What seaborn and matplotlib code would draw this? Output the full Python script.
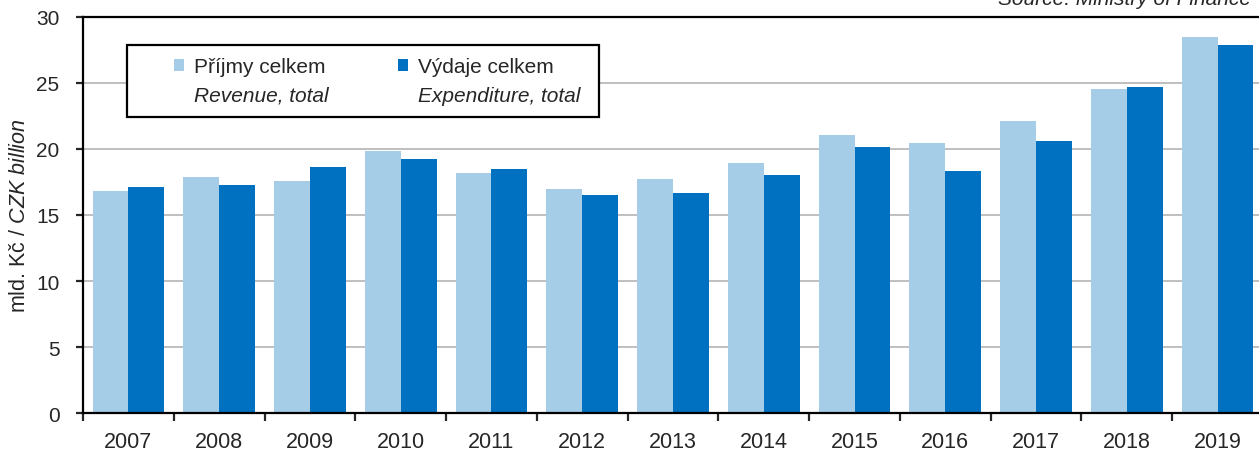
import pandas as pd
import matplotlib
matplotlib.use("Agg")
import matplotlib.pyplot as plt
import seaborn as sns
from matplotlib.patches import Patch, Rectangle

years = ["2007", "2008", "2009", "2010", "2011", "2012", "2013",
         "2014", "2015", "2016", "2017", "2018", "2019"]
revenue = [16.85, 17.9, 17.6, 19.85, 18.2, 17.0, 17.75, 18.95, 21.05, 20.45, 22.1, 24.55, 28.45]
expenditure = [17.15, 17.3, 18.65, 19.25, 18.5, 16.55, 16.7, 18.05, 20.15, 18.35, 20.6, 24.7, 27.85]

rev_label = "Příjmy celkem"
exp_label = "Výdaje celkem"
rev_label_en = "Revenue, total"
exp_label_en = "Expenditure, total"

light_blue = "#A6CDE8"
dark_blue = "#0070C0"

"""Long-form table for seaborn"""
df = pd.DataFrame({
    "Year": years * 2,
    "Value": revenue + expenditure,
    "Series": [rev_label] * len(years) + [exp_label] * len(years),
})

sns.set_style("white")
plt.rcParams["font.family"] = ["Liberation Sans", "DejaVu Sans"]
plt.rcParams["mathtext.fontset"] = "custom"
plt.rcParams["mathtext.rm"] = "Liberation Sans"
plt.rcParams["mathtext.it"] = "Liberation Sans:italic"

W, H = 1259, 452
fig = plt.figure(figsize=(W / 100, H / 100), dpi=100)
ax_left, ax_right, ax_top, ax_bottom = 83, 1263, 17.7, 414.3
ax = fig.add_axes([ax_left / W, 1 - ax_bottom / H, (ax_right - ax_left) / W, (ax_bottom - ax_top) / H])

sns.barplot(data=df, x="Year", y="Value", hue="Series", palette=[light_blue, dark_blue],
            saturation=1, width=0.79, gap=0, linewidth=0, legend=False, ax=ax, zorder=2)

ax.set_xlim(-0.5, len(years) - 0.5)
ax.set_ylim(0, 30)
ax.set_yticks(range(0, 31, 5))
ax.yaxis.grid(True, color="#BFBFBF", linewidth=1.4, zorder=0)
ax.set_axisbelow(True)
ax.set_xlabel("")
ax.set_ylabel("mld. Kč / $\\mathit{CZK\\ billion}$", fontsize=15.5)
ax.yaxis.set_label_coords(-0.045, 0.5)

for side in ["left", "bottom", "top"]:
    ax.spines[side].set_visible(True)
    ax.spines[side].set_color("black")
    ax.spines[side].set_linewidth(1.6)
ax.spines["right"].set_visible(False)

# category boundary ticks on x, labels at centres
ax.set_xticks([i - 0.5 for i in range(len(years) + 1)], minor=True)
ax.tick_params(axis="x", which="major", length=0, pad=13, labelsize=15.5)
ax.tick_params(axis="x", which="minor", length=6, width=1.6, direction="out", bottom=True)
ax.tick_params(axis="y", which="major", length=5, width=1.6, direction="out", left=True,
               pad=12, labelsize=15)

"""Legend box with two-line entries"""
box = Rectangle((0.0373, 0.7471), 0.4373 - 0.0373, 0.9287 - 0.7471, transform=ax.transAxes,
                facecolor="white", edgecolor="black", linewidth=1.6, zorder=5)
ax.add_patch(box)
blank = Patch(facecolor="none", edgecolor="none")
handles = [Patch(facecolor=light_blue, edgecolor="none"), blank,
           Patch(facecolor=dark_blue, edgecolor="none"), blank]
labels = [rev_label, rev_label_en, exp_label, exp_label_en]
leg = ax.legend(handles, labels, ncol=2, loc="upper left", bbox_to_anchor=(0.0771, 0.898),
                frameon=False, borderpad=0, borderaxespad=0, fontsize=15,
                handlelength=0.48, handleheight=0.48, handletextpad=0.5,
                labelspacing=0.45, columnspacing=3.3)
leg.set_zorder(6)
for t in leg.get_texts()[1::2]:
    t.set_fontstyle("italic")

fig.text(998 / W, 1 - 5 / H, "Source: Ministry of Finance", fontsize=15, style="italic",
         ha="left", va="baseline")

plt.savefig("out.png", dpi=100)
